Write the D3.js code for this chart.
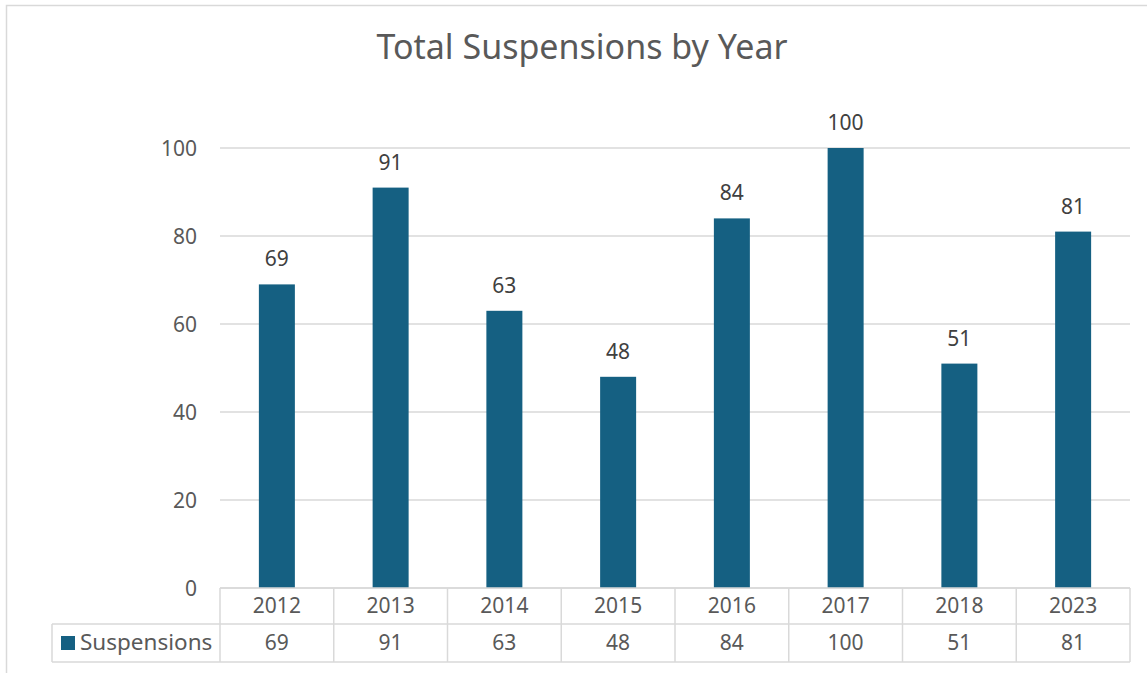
<!DOCTYPE html>
<html><head><meta charset="utf-8">
<script src="https://cdn.jsdelivr.net/npm/d3@7"></script>
<style>body{margin:0;background:#fff;} svg{display:block;font-family:"Noto Sans",Inter,sans-serif;}</style>
</head><body>
<svg id="chart" width="1147" height="673"></svg>
<script>
const categories = ["2012","2013","2014","2015","2016","2017","2018","2023"];
const seriesName = "Suspensions";
const values = [69, 91, 63, 48, 84, 100, 51, 81];
const yTicks = [0, 20, 40, 60, 80, 100];
const title = "Total Suspensions by Year";

const svg = d3.select("#chart");
const barColor = "#156082", gridColor = "#d9d9d9", textColor = "#595959";

// chart border
svg.append("rect").attr("x",6.5).attr("y",5.5).attr("width",1160).attr("height",700)
  .attr("fill","none").attr("stroke","#d9d9d9").attr("stroke-width",1.5);

svg.append("text").attr("x",582).attr("y",59).attr("text-anchor","middle")
  .attr("font-size",34).attr("fill",textColor).text(title);

const pLeft = 220, pRight = 1130, pTop = 148, pBottom = 588;
const x = d3.scaleBand().domain(categories).range([pLeft,pRight]).paddingInner(0).paddingOuter(0);
const y = d3.scaleLinear().domain([0,100]).range([pBottom, pTop]);

// gridlines
svg.append("g").selectAll("line").data(yTicks).join("line")
  .attr("x1",pLeft).attr("x2",pRight).attr("y1",d=>y(d)).attr("y2",d=>y(d))
  .attr("stroke",gridColor).attr("stroke-width",1.5);

// y axis labels
const yAxis = d3.axisLeft(y).tickValues(yTicks).tickSize(0).tickPadding(0);
const gy = svg.append("g").attr("transform",`translate(197,0)`).call(yAxis);
gy.select(".domain").remove();
gy.selectAll("text").attr("font-size",21).attr("fill",textColor).attr("font-family","'Noto Sans',Inter,sans-serif").attr("dy","0.35em");

// bars
const bw = 36;
svg.append("g").selectAll("rect").data(values).join("rect")
  .attr("x",(d,i)=>x(categories[i])+x.bandwidth()/2-bw/2)
  .attr("width",bw)
  .attr("y",d=>y(d)).attr("height",d=>y(0)-y(d))
  .attr("fill",barColor);

// data labels
svg.append("g").selectAll("text").data(values).join("text")
  .attr("x",(d,i)=>x(categories[i])+x.bandwidth()/2)
  .attr("y",d=>y(d)-18).attr("text-anchor","middle")
  .attr("font-size",21).attr("fill","#404040").text(d=>d);

// data table
const rowH1Top = 588, rowH1Bot = 624, rowH2Bot = 662;
const tb = svg.append("g");
function line(x1,y1,x2,y2){ tb.append("line").attr("x1",x1).attr("y1",y1).attr("x2",x2).attr("y2",y2).attr("stroke",gridColor).attr("stroke-width",1.5); }
line(pLeft, rowH1Top, pRight, rowH1Top);
line(52, rowH1Bot, pRight, rowH1Bot);
line(52, rowH2Bot, pRight, rowH2Bot);
line(52, rowH1Bot, 52, rowH2Bot);
categories.forEach(c=>{ line(x(c), rowH1Top, x(c), rowH2Bot); });
line(pRight, rowH1Top, pRight, rowH2Bot);

tb.selectAll("text.cat").data(categories).join("text").attr("class","cat")
  .attr("x",d=>x(d)+x.bandwidth()/2).attr("y",(rowH1Top+rowH1Bot)/2).attr("dy","0.35em")
  .attr("text-anchor","middle").attr("font-size",21).attr("fill",textColor).text(d=>d);
tb.selectAll("text.val").data(values).join("text").attr("class","val")
  .attr("x",(d,i)=>x(categories[i])+x.bandwidth()/2).attr("y",(rowH1Bot+rowH2Bot)/2).attr("dy","0.35em")
  .attr("text-anchor","middle").attr("font-size",21).attr("fill",textColor).text(d=>d);
tb.append("rect").attr("x",61).attr("y",636).attr("width",14).attr("height",14).attr("fill",barColor);
tb.append("text").attr("x",80).attr("y",(rowH1Bot+rowH2Bot)/2-1).attr("dy","0.35em")
  .attr("font-size",22.5).attr("fill",textColor).text(seriesName);
</script>
</body></html>
